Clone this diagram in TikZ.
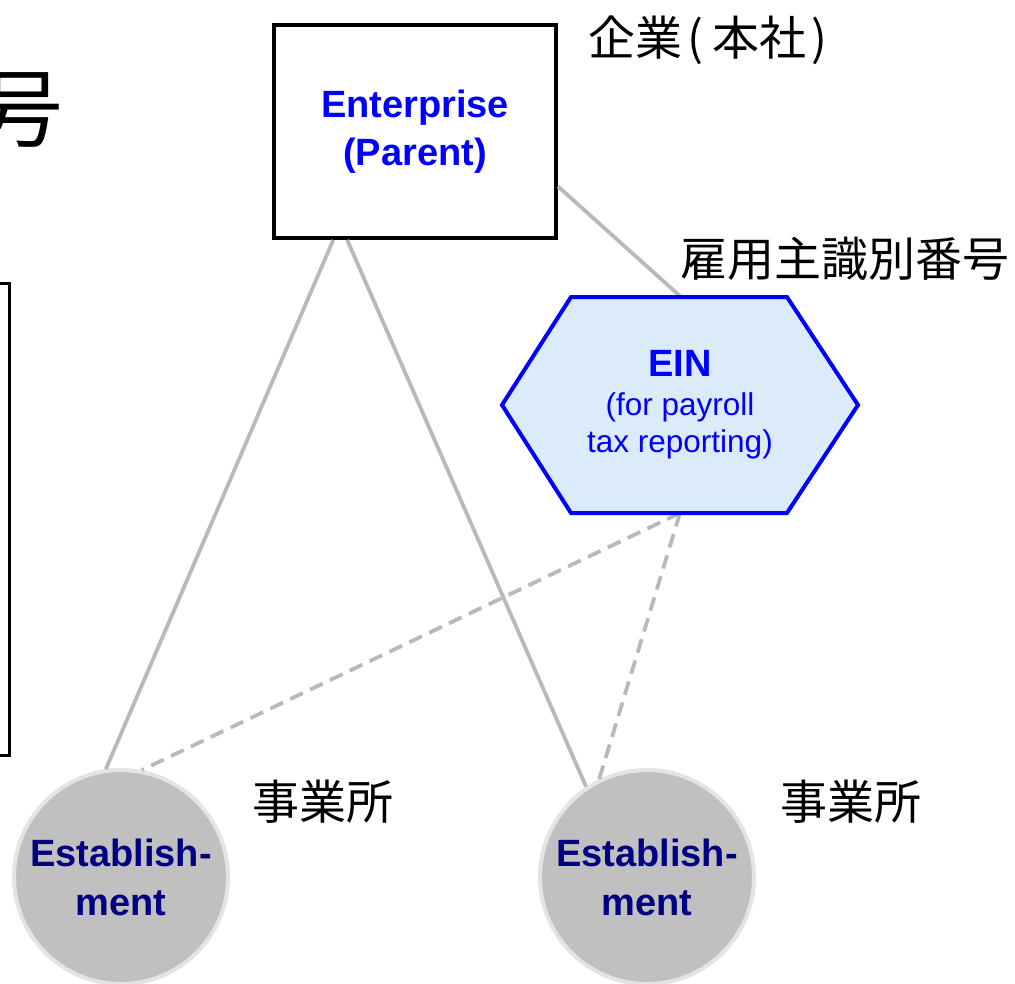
\documentclass[tikz,border=0pt]{standalone}
\usepackage{fontspec}
\setmainfont{Liberation Sans}
\newfontfamily\jpfont{Noto Sans CJK JP}
\usetikzlibrary{calc}
\definecolor{linegray}{RGB}{185,185,185}
\definecolor{hexfill}{RGB}{220,235,250}
\definecolor{navyblue}{RGB}{0,0,128}
\definecolor{circedge}{RGB}{228,228,228}
\definecolor{einblue}{RGB}{0,0,255}
\begin{document}
\begin{tikzpicture}[x=1pt,y=-1pt,
  conn/.style={draw=linegray,line width=3.8pt},
  dashconn/.style={conn,dash pattern=on 14pt off 8pt},
  entbox/.style={draw=black,line width=4pt,fill=white,minimum width=282pt,minimum height=213pt,inner sep=0pt,
    align=center,text=einblue,font=\bfseries\fontsize{38}{48}\selectfont},
  hexstyle/.style={draw=einblue,line width=4pt,fill=hexfill,line join=miter},
  estab/.style={circle,draw=circedge,line width=4pt,fill={rgb,255:red,192;green,192;blue,192},minimum size=214pt,inner sep=0pt,
    align=center,text=navyblue,font=\bfseries\fontsize{38}{49}\selectfont},
  jplabel/.style={anchor=west,inner sep=0pt,font=\jpfont\fontsize{47}{47}\selectfont}]
\useasboundingbox (0,0) rectangle (1015,983);
\clip (0,0) rectangle (1015,983);
% partial title character and frame cut off at the left
\node[inner sep=0pt,anchor=east,font=\jpfont\fontsize{85}{85}\selectfont] (title) at (64,110) {号};
\draw[line width=3pt] (-30,283) rectangle (9.5,755);
% hexagon coordinates
\coordinate (hexL) at (502,405);
\coordinate (hexTL) at (571,297);
\coordinate (hexTR) at (787,297);
\coordinate (hexR) at (858,405);
\coordinate (hexBR) at (787,513);
\coordinate (hexBL) at (571,513);
\coordinate (hexTop) at (681,297);
\coordinate (hexBot) at (680,513);
% nodes
\node[entbox] (ent) at (415,131.5) {Enterprise\\(Parent)};
\node[estab] (est1) at (121,877) {Establish-\\ment};
\node[estab] (est2) at (647,877) {Establish-\\ment};
% connectors
\draw[conn] (ent.233.6) -- (est1.98.5);
\draw[conn] (ent.238.3) -- (est2.124.6);
\draw[conn] (ent.-21.6) -- (hexTop);
\draw[dashconn] (hexBot) -- (est1.79.6);
\draw[dashconn] (hexBot) -- (est2.116.8);
% hexagon
\draw[hexstyle] (hexL) -- (hexTL) -- (hexTR) -- (hexR) -- (hexBR) -- (hexBL) -- cycle;
\node[align=center,text=einblue,font=\fontsize{31.5}{37}\selectfont] (ein) at (680,405)
  {{\bfseries\fontsize{38}{39}\selectfont EIN}\\[2pt](for payroll\\tax reporting)};
% labels
\node[jplabel] (lblent) at (588,40) {企業\kern5pt(\kern9pt本社\kern5pt)};
\node[jplabel] (lblein) at (680,259) {雇用主識別番号};
\node[jplabel] (lblest1) at (252,802) {事業所};
\node[jplabel] (lblest2) at (780,802) {事業所};
\end{tikzpicture}
\end{document}
